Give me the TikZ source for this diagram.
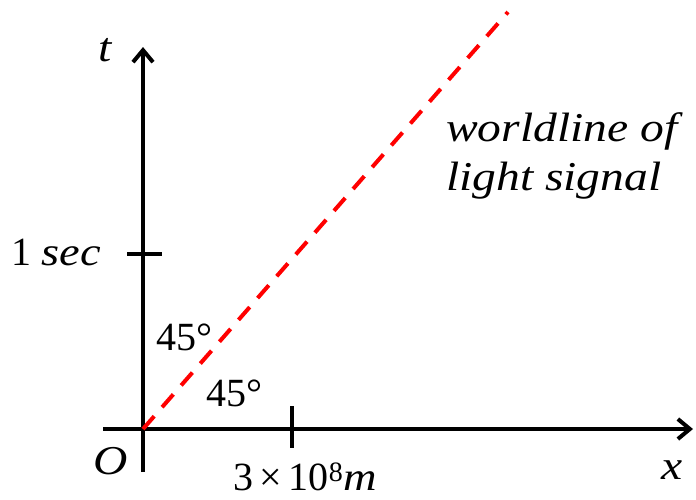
\documentclass[tikz,border=0pt]{standalone}
\usepackage{fontspec}
\setmainfont{Liberation Serif}[ItalicFeatures={FakeStretch=1.16}]
\usetikzlibrary{arrows.meta}
\begin{document}
\begin{tikzpicture}[x=1pt,y=-1pt,
  axis/.style={line width=4pt,-{Straight Barb[length=12pt,width=20pt]}},
  tickmark/.style={line width=4pt},
  lbl/.style={font=\fontsize{40}{48}\selectfont,inner sep=0pt},
  big/.style={font=\fontsize{41}{49}\selectfont,inner sep=0pt},
  light/.style={red,line width=4pt,dash pattern=on 17pt off 12pt}]
\useasboundingbox (0,0) rectangle (696,499);
% axes
\coordinate (O) at (143,429);
\coordinate (xs) at (103,429);
\coordinate (xe) at (693,429);
\coordinate (ts) at (143,472);
\coordinate (te) at (143,47);
\draw[axis] (xs) -- (xe);
\draw[axis] (ts) -- (te);
% ticks
\coordinate (xt1) at (292,406);
\coordinate (xt2) at (292,448);
\coordinate (tt1) at (127,254);
\coordinate (tt2) at (162,254);
\draw[tickmark] (xt1) -- (xt2);
\draw[tickmark] (tt1) -- (tt2);
% light worldline
\coordinate (L) at (508,12);
\draw[light] (O) -- (L);
% labels
\node[big] (tlab) at (105,50) {\itshape t};
\node[big] (olab) at (111,461) {\itshape O};
\node[big] (xlab) at (672,470) {\itshape x};
\node[lbl,anchor=east] (sec) at (101,252) {1 \textit{sec}};
\node[lbl] (meter) at (305,477) {3\,×\,10\textsuperscript{8}\textit{m}};
\node[lbl] (a1) at (184,337) {45°};
\node[lbl] (a2) at (234,393) {45°};
\node[big,anchor=north west,align=left] (wl) at (446,112) {\itshape worldline of\\\itshape light signal};
\end{tikzpicture}
\end{document}
